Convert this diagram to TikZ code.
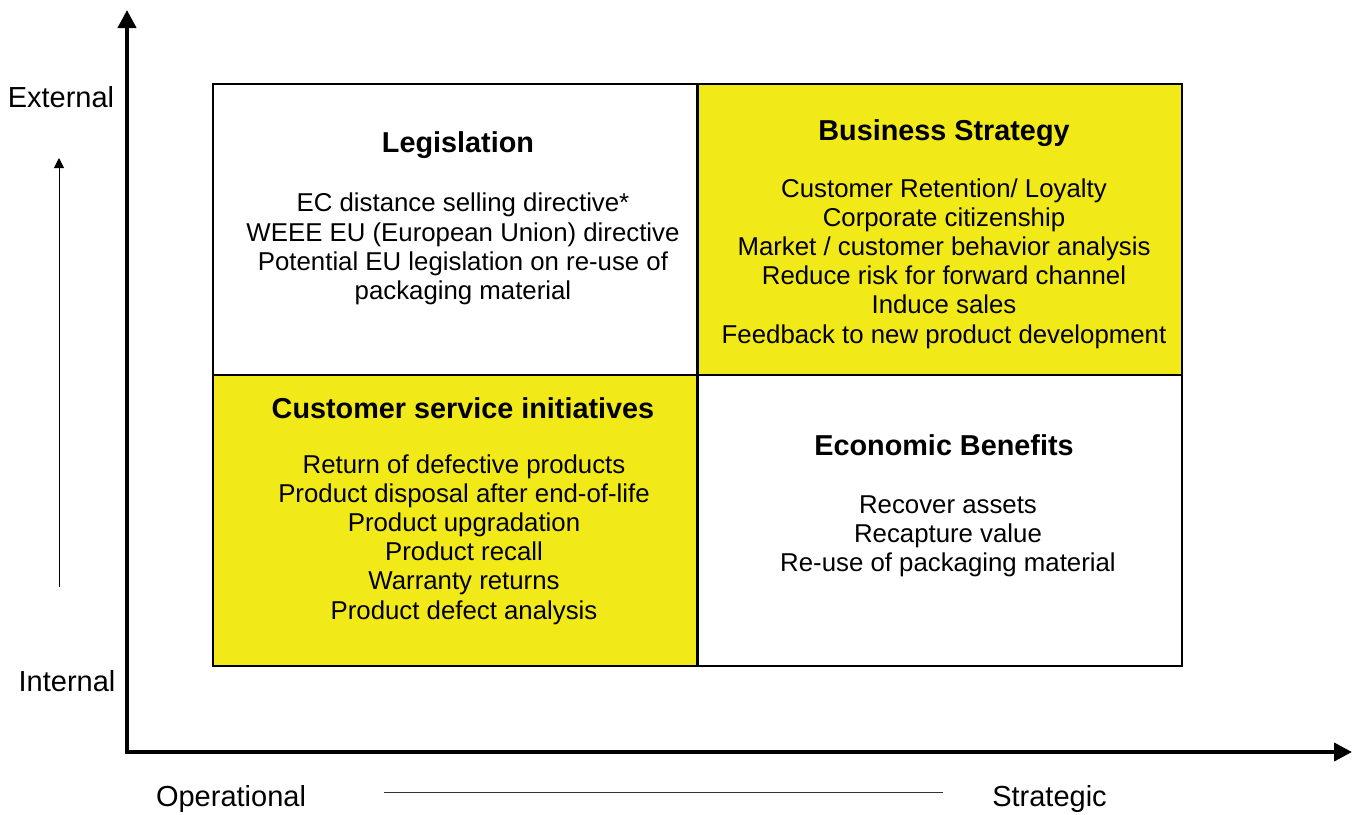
\documentclass[tikz,border=0pt]{standalone}
\usepackage{fontspec}
\setmainfont{Liberation Sans}
\usetikzlibrary{arrows.meta}
\definecolor{qyellow}{RGB}{242,234,24}
\begin{document}
\begin{tikzpicture}[x=1pt,y=-1pt,
  cell/.style={draw=black, line width=2pt, inner sep=0pt, minimum width=484pt, minimum height=291pt},
  ttl/.style={font=\fontsize{28.8}{32}\selectfont\bfseries, inner sep=0pt},
  body/.style={font=\fontsize{25.8}{29.2}\selectfont, align=center, inner sep=0pt},
  lab/.style={font=\fontsize{29}{32}\selectfont, inner sep=0pt},
  axis/.style={line width=4pt, -{Triangle[length=18pt,width=18pt]}},
  thinarrow/.style={line width=1pt, -{Triangle[length=10pt,width=10pt]}}]
\useasboundingbox (0,0) rectangle (1354,814);
% quadrants
\node[cell, fill=white] (leg) at (455,229) {};
\node[cell, fill=qyellow] (bus) at (939.5,229) {};
\node[cell, fill=qyellow] (cus) at (455,520.5) {};
\node[cell, fill=white] (eco) at (939.5,520.5) {};
% titles
\node[ttl] (legt) at (458,145) {Legislation};
\node[ttl] (bust) at (944,133) {Business Strategy};
\node[ttl] (cust) at (463,408) {Customer service initiatives};
\node[ttl] (ecot) at (944,445) {Economic Benefits};
% bodies
\node[body] (legb) at (463,249) {EC distance selling directive*\\WEEE EU (European Union) directive\\Potential EU legislation on re-use of\\packaging material};
\node[body] (busb) at (944,263.5) {Customer Retention/ Loyalty\\Corporate citizenship\\Market / customer behavior analysis\\Reduce risk for forward channel\\Induce sales\\Feedback to new product development};
\node[body] (cusb) at (464,539.5) {Return of defective products\\Product disposal after end-of-life\\Product upgradation\\Product recall\\Warranty returns\\Product defect analysis};
\node[body] (ecob) at (948,536) {Recover assets\\Recapture value\\Re-use of packaging material};
% axes
\coordinate (origin) at (127,752);
\coordinate (ytip) at (127,10);
\coordinate (xtip) at (1352,752);
\draw[axis] ([yshift=2pt]origin) -- (ytip);
\draw[axis] ([xshift=-2pt]origin) -- (xtip);
% axis labels
\node[lab] (ext) at (61,97) {External};
\node[lab] (int) at (67,681) {Internal};
\node[lab] (ope) at (231,799) {Operational};
\node[lab] (str) at (1049.5,799) {Strategic};
% guides
\coordinate (ga) at (59,587);
\coordinate (gb) at (59,158);
\draw[thinarrow] (ga) -- (gb);
\coordinate (ha) at (384,792);
\coordinate (hb) at (943,792);
\draw[line width=1pt, black!80] (ha) -- (hb);
\end{tikzpicture}
\end{document}
